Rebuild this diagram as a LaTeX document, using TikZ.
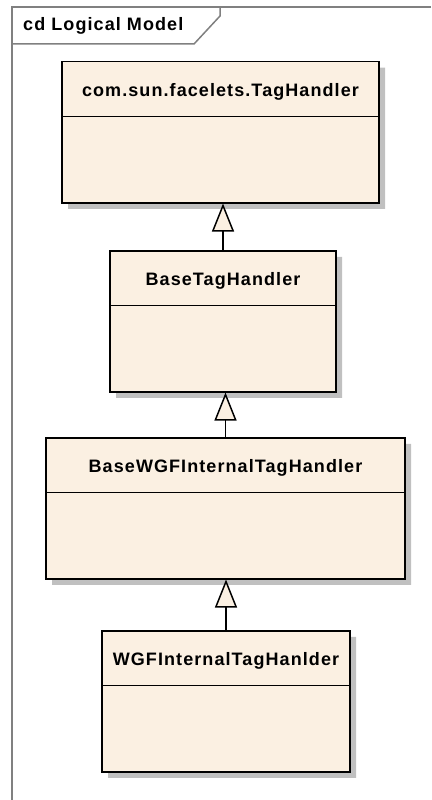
\documentclass[tikz,border=0pt]{standalone}
\usepackage{fontspec}
\newfontfamily\umlfont{Liberation Sans}[LetterSpace=6]
\usetikzlibrary{arrows.meta, shapes.multipart, shadows, positioning}
\definecolor{classfill}{RGB}{251,240,226}
\definecolor{shadowgray}{RGB}{192,192,192}
\definecolor{framegray}{RGB}{128,128,128}

\begin{document}
\begin{tikzpicture}[
  x=1pt, y=1pt,
  % --- styles ------------------------------------------------------------
  umlclass/.style={
    rectangle split, rectangle split parts=2, draw, line width=1.5pt,
    fill=classfill, inner xsep=0pt, inner ysep=0pt,
    font=\umlfont\bfseries\fontsize{18}{21}\selectfont,
    drop shadow={shadow xshift=6pt, shadow yshift=-6pt, fill=shadowgray, opacity=1}
  },
  gen/.style={-{Triangle[length=28pt, width=22pt, fill=classfill]}, line width=1.5pt},
  frameline/.style={draw=framegray, line width=1.5pt}
]
\useasboundingbox (0,0) rectangle (431,-800);

% --------------------- diagram frame ------------------------------------
\draw[frameline] (431,-7) -- (12,-7) -- (12,-800);
\draw[frameline] (12,-44) -- (194,-44) -- (220,-16) -- (220,-7);
\node[anchor=base west, inner sep=0pt, font=\umlfont\bfseries\fontsize{18}{21}\selectfont]
  (diagramTitle) at (23,-31) {cd Logical Model};

% --------------------- classes ------------------------------------------
\node[umlclass, minimum width=317pt, anchor=north] (tagHandler) at (220.5,-61)
  {\rule[-19pt]{0pt}{53pt}com.sun.facelets.TagHandler\nodepart{two}\rule{0pt}{85pt}};
\node[umlclass, minimum width=226pt, below=46.5pt of tagHandler, xshift=2.5pt] (baseTag)
  {\rule[-19pt]{0pt}{53pt}BaseTagHandler\nodepart{two}\rule{0pt}{85pt}};
\node[umlclass, minimum width=359pt, below=44.5pt of baseTag, xshift=2.5pt] (baseWgf)
  {\rule[-19pt]{0pt}{53pt}BaseWGFInternalTagHandler\nodepart{two}\rule{0pt}{85pt}};
\node[umlclass, minimum width=248pt, below=50.5pt of baseWgf, xshift=0.5pt] (wgfInternal)
  {\rule[-19pt]{0pt}{53pt}WGFInternalTagHanlder\nodepart{two}\rule{0pt}{85pt}};

% --------------------- generalizations ----------------------------------
\draw[gen] (baseTag.north) -- (baseTag.north |- tagHandler.south);
\draw[gen] (baseWgf.north) -- (baseWgf.north |- baseTag.south);
\draw[gen] (wgfInternal.north) -- (wgfInternal.north |- baseWgf.south);

\end{tikzpicture}
\end{document}
